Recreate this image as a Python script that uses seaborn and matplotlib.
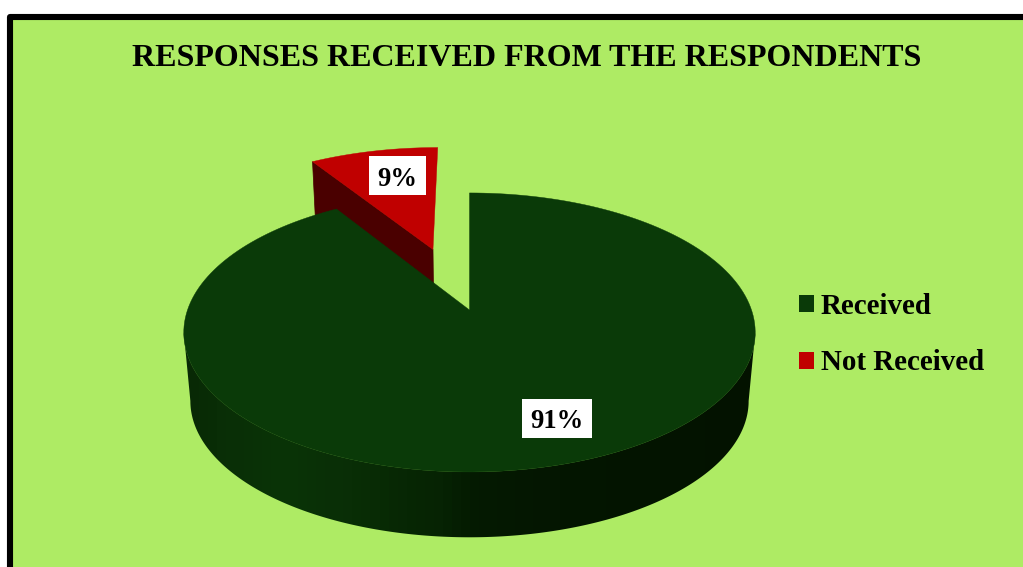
import numpy as np
import matplotlib
matplotlib.use("Agg")
import matplotlib.pyplot as plt
from matplotlib.colors import LinearSegmentedColormap
from matplotlib.patches import Polygon, Rectangle, Patch
import seaborn as sns

# Survey figures
categories = ["Received", "Not Received"]
shares = [91, 9]
share_labels = ["91%", "9%"]
chart_title = "RESPONSES RECEIVED FROM THE RESPONDENTS"

BACKGROUND = "#aeeb64"
FACE_COLORS = ["#0a3a08", "#c00000"]
CUT_FACE_RED = "#4a0000"

sns.set_theme(style="white")
plt.rcParams["font.family"] = ["Liberation Serif", "DejaVu Serif"]
palette = sns.color_palette(FACE_COLORS)

fig = plt.figure(figsize=(10.23, 5.67), dpi=100, facecolor="white")
ax = fig.add_axes([0, 0, 1, 1])
ax.axis("off")

# Perspective projection of the pie plane onto the canvas
PERSPECTIVE = 0.161
CENTER_X = 469.5
TOP_LEVEL = dict(cy=310, kx=282, ky=135.9)
BOTTOM_LEVEL = dict(cy=379, kx=275.5, ky=132.8)


def project(u, v, level):
    depth = 1 - PERSPECTIVE * v
    return CENTER_X + level["kx"] * u / depth, level["cy"] + level["ky"] * v / depth


def rim(start, stop, level, shift=(0, 0), n=200):
    # Clockwise angles measured from twelve o'clock
    phi = np.radians(np.linspace(start, stop, n))
    return project(np.sin(phi) + shift[0], -np.cos(phi) + shift[1], level)


def wedge(start, stop, level, shift=(0, 0)):
    xs, ys = rim(start, stop, level, shift)
    ax_, ay_ = project(shift[0], shift[1], level)
    return np.column_stack([np.r_[ax_, xs], np.r_[ay_, ys]])


ax.add_patch(Rectangle((10, 17), 1200, 800, facecolor=BACKGROUND, edgecolor="black",
                       linewidth=4.4, joinstyle="round"))

main_sweep = 360 * shares[0] / sum(shares)
small_sweep = 360 * shares[1] / sum(shares)

# Exploded slice: pulled out along its bisector
EXPLODE = 0.5
bisector = np.radians(main_sweep + small_sweep / 2)
offset = (EXPLODE * np.sin(bisector), -EXPLODE * np.cos(bisector))

corner_u = np.sin(np.radians(main_sweep)) + offset[0]
corner_v = -np.cos(np.radians(main_sweep)) + offset[1]
corner_top = project(corner_u, corner_v, TOP_LEVEL)
corner_bottom = project(corner_u, corner_v, BOTTOM_LEVEL)
apex_top = project(offset[0], offset[1], TOP_LEVEL)
apex_bottom = project(offset[0], offset[1], BOTTOM_LEVEL)
ax.add_patch(Polygon([corner_top, apex_top, apex_bottom, corner_bottom],
                     facecolor=CUT_FACE_RED, edgecolor=CUT_FACE_RED, linewidth=0.5, zorder=2))
ax.add_patch(Polygon(wedge(main_sweep, 360, TOP_LEVEL, offset),
                     facecolor=palette[1], edgecolor=palette[1], linewidth=0.3, zorder=3))

# Side wall of the large slice: a horizontal shade clipped to its outline
wall_from = np.degrees(np.arccos(-PERSPECTIVE))
wall_to = 360 - wall_from
tx, ty = rim(wall_from, wall_to, TOP_LEVEL, n=240)
bx, by = rim(wall_from, wall_to, BOTTOM_LEVEL, n=240)
wall_outline = Polygon(np.column_stack([np.r_[tx, bx[::-1]], np.r_[ty, by[::-1]]]),
                       facecolor="none", edgecolor="none", zorder=4)
ax.add_patch(wall_outline)

shade_x = np.array([180, 215, 280, 350, 440, 475, 560, 760])
shade_colors = ["#082805", "#092e06", "#0a3407", "#092e06", "#062303", "#041a01", "#041601", "#031200"]
shade_map = LinearSegmentedColormap.from_list(
    "wall", list(zip((shade_x - 180) / 580, shade_colors)), N=64)
wall_image = ax.imshow(np.linspace(0, 1, 580)[None, :], extent=(180, 760, 560, 300), aspect="auto",
                       cmap=shade_map, vmin=0, vmax=1, zorder=4, interpolation="nearest")
wall_image.set_clip_path(wall_outline)

ax.add_patch(Polygon(wedge(0, main_sweep, TOP_LEVEL),
                     facecolor=palette[0], edgecolor=palette[0], linewidth=0.3, zorder=5))

# Percentage labels on white plates
ax.add_patch(Rectangle((522, 399), 70, 39, facecolor="white", edgecolor="none", zorder=6))
ax.add_patch(Rectangle((369, 156), 57, 39, facecolor="white", edgecolor="none", zorder=6))
ax.text(556.5, 421.5, share_labels[0], fontsize=19.2, fontweight="bold", color="black",
        ha="center", va="center", zorder=7)
ax.text(397.5, 180, share_labels[1], fontsize=19.2, fontweight="bold", color="black",
        ha="center", va="center", zorder=7)

ax.text(526.5, 58, chart_title, fontsize=23, fontweight="bold", color="black",
        ha="center", va="center", zorder=7)

handles = [Patch(facecolor=palette[i], edgecolor="none", label=categories[i]) for i in range(2)]
ax.legend(handles=handles, loc="upper left", bbox_to_anchor=(799 / 1023, 1 - 292.5 / 567),
          frameon=False, prop=dict(size=20.9, weight="bold"), handlelength=0.517, handleheight=0.517,
          handletextpad=0.24, labelspacing=1.03, borderpad=0, borderaxespad=0, labelcolor="black")

ax.set_xlim(0, 1023)
ax.set_ylim(567, 0)
sns.despine(ax=ax, left=True, bottom=True)
fig.savefig("out.png", dpi=100, facecolor="white")
